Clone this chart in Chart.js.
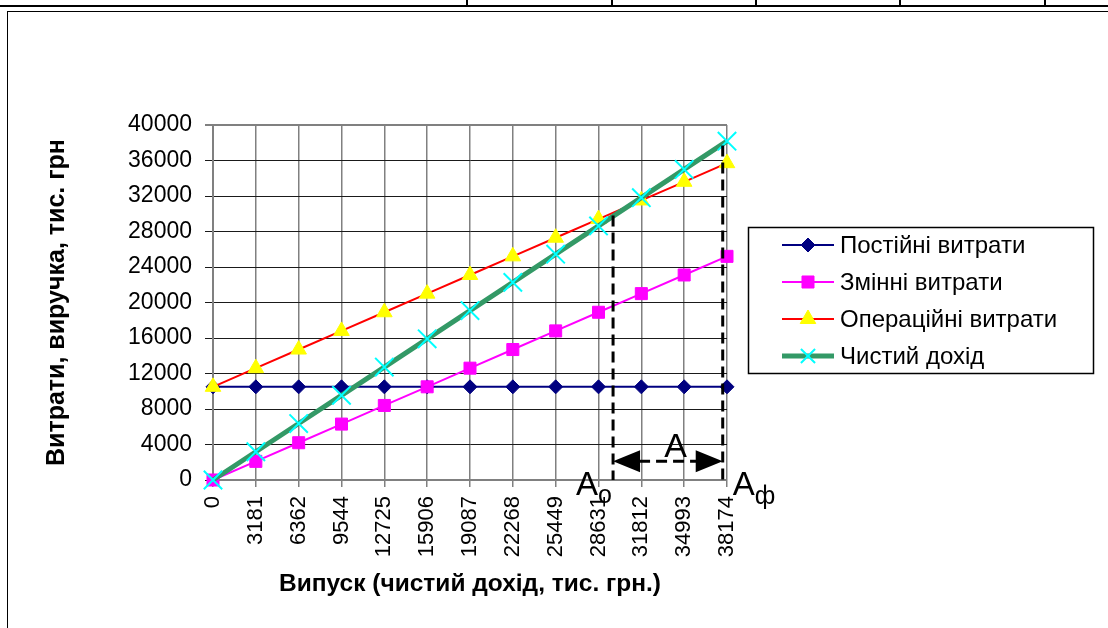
<!DOCTYPE html>
<html>
<head>
<meta charset="utf-8">
<script src="https://cdn.jsdelivr.net/npm/chart.js@4.4.1/dist/chart.umd.min.js"></script>
<style>
html, body { margin: 0; padding: 0; background: #fff; }
#wrap { position: relative; width: 1108px; height: 628px; overflow: hidden; background: #fff; }
#myChart { position: absolute; left: 0; top: 0; }
.ln { position: absolute; background: #000; }
</style>
</head>
<body>
<div id="wrap">
  <canvas id="myChart" width="1108" height="628"></canvas>
  <!-- page frame from the source document -->
  <div class="ln" style="left:0;top:5px;width:1108px;height:2px"></div>
  <div class="ln" style="left:466px;top:0;width:2px;height:6px"></div>
  <div class="ln" style="left:611px;top:0;width:2px;height:6px"></div>
  <div class="ln" style="left:755px;top:0;width:2px;height:6px"></div>
  <div class="ln" style="left:899px;top:0;width:2px;height:6px"></div>
  <div class="ln" style="left:1044px;top:0;width:2px;height:6px"></div>
  <div class="ln" style="left:7px;top:11px;width:1101px;height:1px"></div>
  <div class="ln" style="left:7px;top:11px;width:1px;height:617px"></div>
</div>
<script>
// data
var output = ['0', '3181', '6362', '9544', '12725', '15906', '19087', '22268', '25449', '28631', '31812', '34993', '38174'];
var fixedCosts = [10500, 10500, 10500, 10500, 10500, 10500, 10500, 10500, 10500, 10500, 10500, 10500, 10500];
var varCosts = [0, 2100, 4200, 6300, 8400, 10500, 12600, 14700, 16800, 18900, 21000, 23100, 25200];
var opCosts = [10500, 12600, 14700, 16800, 18900, 21000, 23100, 25200, 27300, 29400, 31500, 33600, 35700];
var netIncome = [0, 3181, 6362, 9544, 12725, 15906, 19087, 22268, 25449, 28631, 31812, 34993, 38174];
var seriesNames = ['Постійні витрати', 'Змінні витрати', 'Операційні витрати', 'Чистий дохід'];
var yMin = 0, yMax = 40000, yStep = 4000;

// breakeven / actual output marks (x as category index, y as value)
var markA0 = { x: 9.34, top: 29800 };
var markAf = { x: 11.9, top: 37700 };
var arrowY = 2100;

var FONT = 'Liberation Sans, Arial, sans-serif';
Chart.defaults.font.family = FONT;
Chart.defaults.color = '#000';

// own legend in a box, like the excel one
var boxLegend = {
  id: 'boxLegend',
  afterDraw: function(chart){
    var ctx = chart.ctx;
    var sizes = [7, 8.5, 9, 10];
    ctx.save();
    ctx.fillStyle = '#fff';
    ctx.fillRect(748, 227, 345, 146);
    ctx.strokeStyle = '#000';
    ctx.lineWidth = 1.5;
    ctx.strokeRect(748.5, 227.5, 345, 146);
    chart.data.datasets.forEach(function(ds, i){
      var cy = 245 + i * 37;
      ctx.setLineDash([]);
      ctx.strokeStyle = ds.borderColor;
      ctx.lineWidth = ds.borderWidth;
      ctx.beginPath();
      ctx.moveTo(782, cy);
      ctx.lineTo(834, cy);
      ctx.stroke();
      ctx.fillStyle = ds.pointBackgroundColor;
      ctx.strokeStyle = ds.pointBorderColor;
      ctx.lineWidth = ds.pointBorderWidth;
      Chart.helpers.drawPoint(ctx, {pointStyle: ds.pointStyle, radius: sizes[i], rotation: 0, borderWidth: ds.pointBorderWidth}, 808, cy);
      ctx.fillStyle = '#000';
      ctx.font = '24px ' + FONT;
      ctx.textAlign = 'left';
      ctx.textBaseline = 'middle';
      ctx.fillText(ds.label, 840, cy + 1);
    });
    ctx.restore();
  }
};

// dashed lines, arrow and the A labels
var marks = {
  id: 'marks',
  afterDatasetsDraw: function(chart){
    var ctx = chart.ctx, xs = chart.scales.x, ys = chart.scales.y;
    var xL = xs.getPixelForValue(markA0.x);
    var xR = xs.getPixelForValue(markAf.x);
    var yb = ys.getPixelForValue(0);
    var ya = ys.getPixelForValue(arrowY);
    ctx.save();
    ctx.strokeStyle = '#000';
    ctx.fillStyle = '#000';
    ctx.lineWidth = 3;
    ctx.setLineDash([11, 6]);
    ctx.beginPath();
    ctx.moveTo(xL, ys.getPixelForValue(markA0.top));
    ctx.lineTo(xL, yb);
    ctx.moveTo(xR, ys.getPixelForValue(markAf.top));
    ctx.lineTo(xR, yb);
    ctx.stroke();
    ctx.beginPath();
    ctx.moveTo(xL + 26, ya);
    ctx.lineTo(xR - 26, ya);
    ctx.stroke();
    ctx.setLineDash([]);
    ctx.beginPath();
    ctx.moveTo(xL, ya);
    ctx.lineTo(xL + 27, ya - 11);
    ctx.lineTo(xL + 27, ya + 11);
    ctx.closePath();
    ctx.moveTo(xR, ya);
    ctx.lineTo(xR - 27, ya - 11);
    ctx.lineTo(xR - 27, ya + 11);
    ctx.closePath();
    ctx.fill();

    ctx.textBaseline = 'alphabetic';
    ctx.textAlign = 'center';
    ctx.font = '34px ' + FONT;
    ctx.fillText('А', xs.getPixelForValue(10.8), yb - 23);
    ctx.textAlign = 'left';
    ctx.font = '33px ' + FONT;
    ctx.fillText('А', xL - 37, yb + 15);
    ctx.fillText('А', xR + 10, yb + 15);
    ctx.font = '25px ' + FONT;
    ctx.fillText('о', xL - 15, yb + 23);
    ctx.fillText('ф', xR + 32, yb + 24);
    ctx.restore();
  }
};

var ctx = document.getElementById('myChart').getContext('2d');
var myChart = new Chart(ctx, {
  type: 'line',
  data: {
    labels: output,
    datasets: [
      {
        label: seriesNames[0], data: fixedCosts, order: 4,
        borderColor: '#000080', borderWidth: 2,
        pointStyle: 'rectRot', pointRadius: 7,
        pointBackgroundColor: '#000080', pointBorderColor: '#000080', pointBorderWidth: 1
      },
      {
        label: seriesNames[1], data: varCosts, order: 3,
        borderColor: '#ff00ff', borderWidth: 2,
        pointStyle: 'rect', pointRadius: 8.5,
        pointBackgroundColor: '#ff00ff', pointBorderColor: '#ff00ff', pointBorderWidth: 1
      },
      {
        label: seriesNames[2], data: opCosts, order: 2,
        borderColor: '#ff0000', borderWidth: 2,
        pointStyle: 'triangle', pointRadius: 9,
        pointBackgroundColor: '#ffff00', pointBorderColor: '#ffff00', pointBorderWidth: 1
      },
      {
        label: seriesNames[3], data: netIncome, order: 1,
        borderColor: '#339966', borderWidth: 5,
        pointStyle: 'crossRot', pointRadius: 13,
        pointBackgroundColor: '#00ffff', pointBorderColor: '#00ffff', pointBorderWidth: 2
      }
    ]
  },
  options: {
    responsive: false,
    animation: false,
    layout: { padding: { left: 40, right: 381, top: 125, bottom: 25 } },
    elements: { line: { tension: 0 } },
    datasets: { line: { clip: false } },
    plugins: { legend: { display: false }, tooltip: { enabled: false } },
    scales: {
      x: {
        offset: false,
        grid: { color: '#808080', lineWidth: 1.5, tickLength: 7 },
        border: { color: '#808080', width: 2 },
        ticks: { autoSkip: false, maxRotation: 90, minRotation: 90, padding: 9, font: { size: 22 } },
        title: {
          display: true, text: 'Випуск (чистий дохід, тис. грн.)',
          font: { size: 24.5, weight: 'bold' }, padding: { top: 0, bottom: 4 }
        },
        afterFit: function(s){ s.height = 123; }
      },
      y: {
        min: yMin, max: yMax,
        grid: {
          color: function(c){ return c.tick && c.tick.value === yMax ? '#808080' : '#1a1a1a'; },
          lineWidth: function(c){ return c.tick && c.tick.value === yMax ? 2 : 1; },
          tickLength: 8
        },
        border: { color: '#808080', width: 2 },
        ticks: { stepSize: yStep, padding: 13, font: { size: 23 }, callback: function(v){ return String(v); } },
        title: {
          display: true, text: 'Витрати, виручка, тис. грн',
          font: { size: 25, weight: 'bold' }, padding: { top: 2, bottom: 0 }
        },
        afterFit: function(s){ s.width = 173; }
      }
    }
  },
  plugins: [marks, boxLegend]
});
</script>
</body>
</html>
